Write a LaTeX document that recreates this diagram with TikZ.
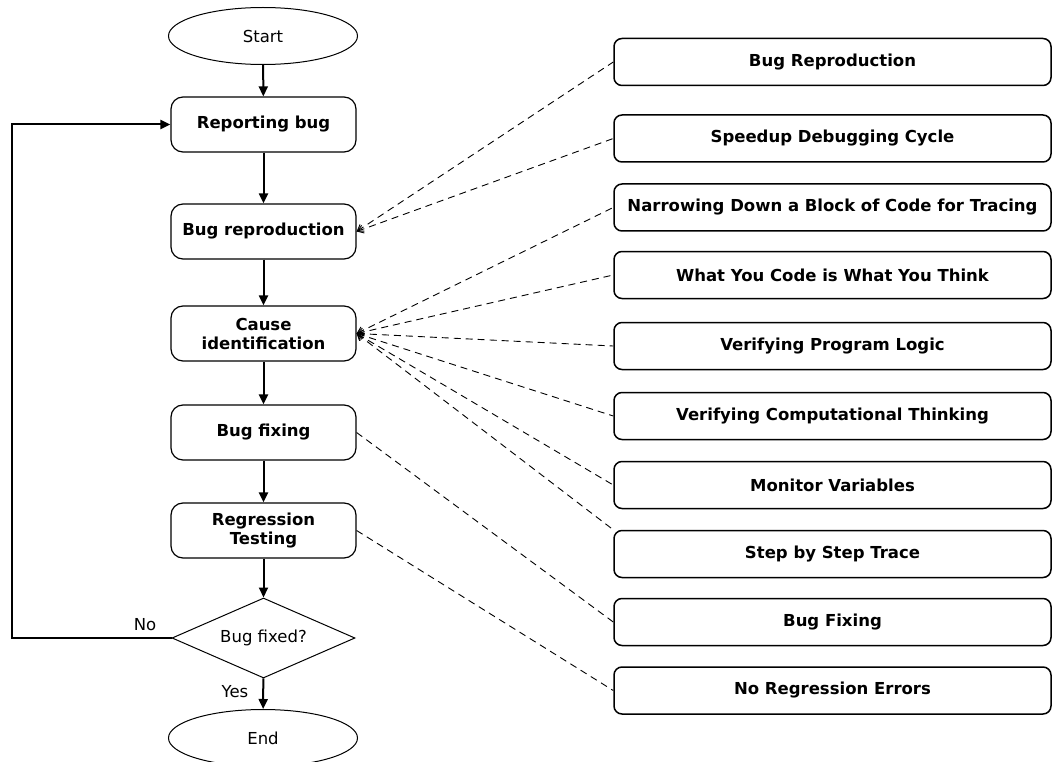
\documentclass[tikz,border=0pt]{standalone}
\usepackage{fontspec}
\setmainfont{DejaVu Sans}
\usetikzlibrary{shapes.geometric,arrows.meta}
\begin{document}
\begin{tikzpicture}[x=1pt,y=-1pt,
  font=\fontsize{16.5}{19}\selectfont,
  proc/.style={draw,line width=1.2pt,rounded corners=12pt,minimum width=185pt,minimum height=55pt,align=center,font=\fontsize{16.5}{19}\selectfont\bfseries,inner sep=0pt},
  term/.style={draw,ellipse,line width=1pt,minimum width=189pt,minimum height=57pt,inner sep=0pt},
  dec/.style={draw,diamond,shape aspect=2.3,line width=1pt,minimum width=183pt,minimum height=80pt,inner sep=0pt},
  goal/.style={draw,line width=1.5pt,rounded corners=8pt,minimum width=437pt,minimum height=47pt,font=\fontsize{16.5}{19}\selectfont\bfseries,inner sep=0pt},
  flow/.style={line width=2pt,-{Triangle[length=10pt,width=9pt]}},
  link/.style={line width=0.9pt,dash pattern=on 7pt off 5pt},
  linka/.style={link,{Straight Barb[length=6pt,width=8pt]}-},
  lbl/.style={inner sep=0pt}
]
\useasboundingbox (0,0) rectangle (1052,762);
% main flow
\node[term] (start) at (263,36) {Start};
\node[proc] (rep) at (263.5,124.5) {Reporting bug};
\node[proc] (repro) at (263.5,231.5) {Bug reproduction};
\node[proc] (cause) at (263.5,333.5) {Cause\\identification};
\node[proc] (fix) at (263.5,432.5) {Bug fixing};
\node[proc] (reg) at (263.5,530.5) {Regression\\Testing};
\node[dec] (q) at (263.5,638) {Bug fixed?};
\node[term] (end) at (263,738) {End};
\node[lbl] (no) at (145,625) {No};
\node[lbl] (yes) at (235,692) {Yes};
\coordinate (fb) at (12,638);
% goals
\node[goal] (g1) at (832.5,62) {Bug Reproduction};
\node[goal] (g2) at (832.5,138.5) {Speedup Debugging Cycle};
\node[goal] (g3) at (832.5,207.5) {Narrowing Down a Block of Code for Tracing};
\node[goal] (g4) at (832.5,275) {What You Code is What You Think};
\node[goal] (g5) at (832.5,346) {Verifying Program Logic};
\node[goal] (g6) at (832.5,416) {Verifying Computational Thinking};
\node[goal] (g7) at (832.5,485) {Monitor Variables};
\node[goal] (g8) at (832.5,554) {Step by Step Trace};
\node[goal] (g9) at (832.5,622) {Bug Fixing};
\node[goal] (g10) at (832.5,690.5) {No Regression Errors};
% flow arrows
\draw[flow] (start) -- (rep);
\draw[flow] (rep) -- (repro);
\draw[flow] (repro) -- (cause);
\draw[flow] (cause) -- (fix);
\draw[flow] (fix) -- (reg);
\draw[flow] (reg) -- (q);
\draw[flow] (q) -- (end);
\draw[flow] (q.west) -- (q.west -| fb) |- (rep.west);
% links
\draw[linka] (repro.east) -- (g1.west);
\draw[linka] (repro.east) -- (g2.west);
\draw[linka] (cause.east) -- (g3.west);
\draw[linka] (cause.east) -- (g4.west);
\draw[linka] (cause.east) -- (g5.west);
\draw[linka] (cause.east) -- (g6.west);
\draw[linka] (cause.east) -- (g7.west);
\draw[linka] (cause.east) -- (g8.north west);
\draw[link] (fix.east) -- (g9.west);
\draw[link] (reg.east) -- (g10.west);
\end{tikzpicture}
\end{document}
